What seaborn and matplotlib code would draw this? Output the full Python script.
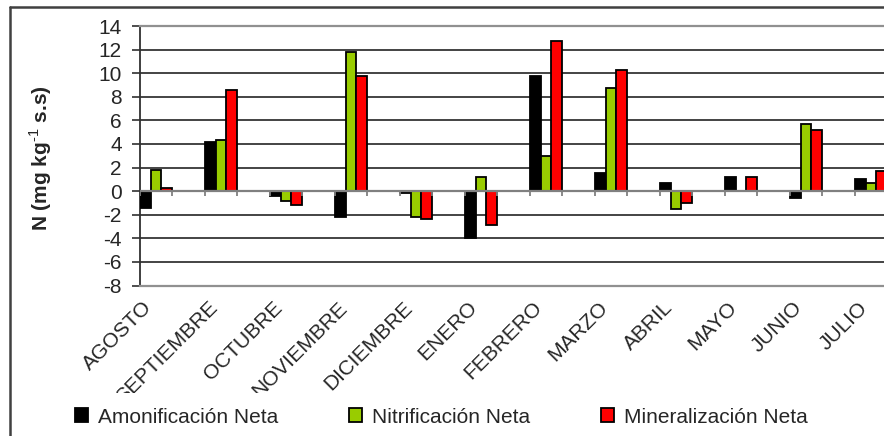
import numpy as np
import pandas as pd
import matplotlib
matplotlib.use("Agg")
import matplotlib.pyplot as plt
from matplotlib.lines import Line2D
from matplotlib.transforms import Bbox
import seaborn as sns

meses = ["AGOSTO", "SEPTIEMBRE", "OCTUBRE", "NOVIEMBRE", "DICIEMBRE", "ENERO",
         "FEBRERO", "MARZO", "ABRIL", "MAYO", "JUNIO", "JULIO"]
amonificacion = [-1.4, 4.2, -0.4, -2.2, -0.2, -4.0, 9.8, 1.55, 0.7, 1.2, -0.6, 1.0]
nitrificacion = [1.8, 4.35, -0.85, 11.8, -2.2, 1.2, 3.0, 8.75, -1.55, 0.0, 5.7, 0.65]
mineralizacion = [0.3, 8.6, -1.2, 9.8, -2.4, -2.9, 12.7, 10.3, -1.0, 1.2, 5.2, 1.7]
series = ["Amonificación Neta", "Nitrificación Neta", "Mineralización Neta"]
colores = ["#000000", "#99CC00", "#FF0000"]
yticks = list(range(-8, 15, 2))

df = pd.DataFrame({
    "mes": meses * 3,
    "valor": amonificacion + nitrificacion + mineralizacion,
    "serie": [s for s in series for _ in meses],
})

sns.set_theme(style="white")
plt.rcParams["font.family"] = ["Liberation Sans", "DejaVu Sans"]
plt.rcParams["mathtext.fontset"] = "custom"
plt.rcParams["mathtext.rm"] = "Liberation Sans"
plt.rcParams["mathtext.bf"] = "Liberation Sans:bold"

W, H = 884, 436
fig = plt.figure(figsize=(W / 100, H / 100), dpi=100)
ax = fig.add_axes([140 / W, 1 - 285.5 / H, 1 - 140 / W, (285.5 - 26) / H])

group_w = 0.49
sns.barplot(data=df, x="mes", y="valor", hue="serie", order=meses,
            hue_order=series, palette=colores, saturation=1, width=group_w, gap=0,
            edgecolor="black", linewidth=1.3, errorbar=None, ax=ax, zorder=3)

ax.set_xlim(-group_w / 2, (884 - 156) / 65)
ax.set_ylim(-8, 14)
ax.set_yticks(yticks)
ax.set_yticklabels([str(v) for v in yticks], fontsize=15)
ax.tick_params(axis="y", left=True, length=6, width=1.2, color="#303030",
               pad=7, direction="out")

# horizontal gridlines
for v in yticks[1:-1]:
    if v != 0:
        ax.axhline(v, color="#111111", lw=1.1, zorder=1)
ax.axhline(0, color="#808080", lw=1.6, zorder=4)

# small tick marks on the category axis at each group's edges
pos = np.arange(len(meses))
edges = np.concatenate([pos - group_w / 2, pos + group_w / 2])
ax.vlines(edges, -0.45, 0, color="#808080", lw=1.3, zorder=4)

for side in ["top", "bottom"]:
    ax.spines[side].set_color("#909090")
    ax.spines[side].set_linewidth(1.6)
ax.spines["right"].set_visible(False)
ax.spines["left"].set_color("#303030")
ax.spines["left"].set_linewidth(1.3)

ax.set_xticks(pos)
ax.set_xticklabels(meses, rotation=45, ha="right", va="top", fontsize=15)
ax.tick_params(axis="x", bottom=False, length=0, pad=9)
ax.set_xlabel("")
ax.set_ylabel(r"N (mg kg$^{\mathbf{\text{-1}}}$ s.s)", fontsize=15,
              fontweight="bold")
ax.yaxis.set_label_coords(-0.116, 0.49)

label_clip = fig.transFigure.transform_bbox(Bbox.from_extents(0, (H - 393) / H, 1, 1))
for lbl in ax.get_xticklabels():
    lbl.set_clip_box(label_clip)
    lbl.set_clip_on(True)

handles, labels = ax.get_legend_handles_labels()
if ax.legend_:
    ax.legend_.remove()
leg = fig.legend(handles, labels, loc="center", bbox_to_anchor=(441 / W, 1 - 417 / H),
                 ncol=3, frameon=False, fontsize=15, handlelength=0.65,
                 handleheight=0.65, handletextpad=0.45, columnspacing=3.4,
                 borderaxespad=0)
for h in leg.legend_handles:
    h.set_edgecolor("black")
    h.set_linewidth(1.3)

# outer chart frame
fig.add_artist(Line2D([10 / W, 10 / W], [0, 1 - 7 / H], transform=fig.transFigure,
                      color="#404040", lw=1.8))
fig.add_artist(Line2D([10 / W, 1], [1 - 7 / H, 1 - 7 / H], transform=fig.transFigure,
                      color="#404040", lw=1.8))

fig.savefig("out.png", dpi=100)
